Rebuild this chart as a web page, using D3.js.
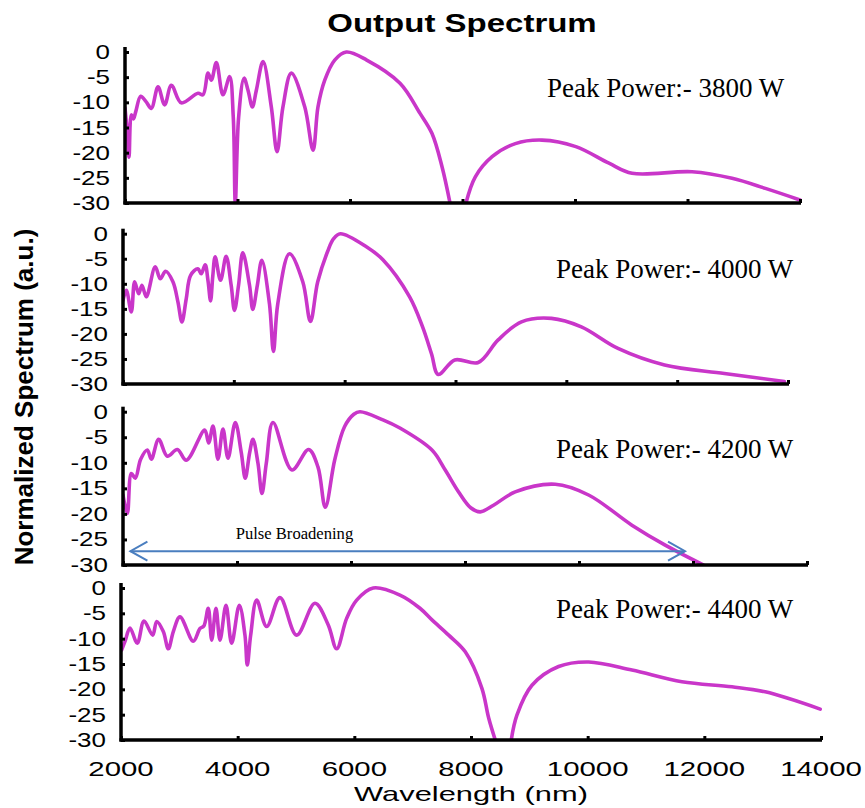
<!DOCTYPE html>
<html><head><meta charset="utf-8">
<script src="https://cdn.jsdelivr.net/npm/d3@7"></script>
<style>body{margin:0;background:#fff}svg{display:block}</style>
</head><body>
<svg id="chart" width="865" height="808"></svg>
<script>
// ---------- data ----------
const xTickValues = [2000, 4000, 6000, 8000, 10000, 12000, 14000];
const yTickValues = [0, -5, -10, -15, -20, -25, -30];
const peakPowers = ["Peak Power:- 3800 W", "Peak Power:- 4000 W", "Peak Power:- 4200 W", "Peak Power:- 4400 W"];

const wave3800 = [2000,2040,2071,2112,2150,2190,2279,2370,2468,2587,2705,2824,3001,3298,3387,3476,3535,3624,3742,3861,3925,3961,4020,4116,4187,4264,4335,4454,4601,4703,4808,4957,5195,5343,5431,5551,5728,5935,6297,6889,7245,7458,7636,7778,7900,8062,8228,8526,8940,9414,10015,10604,11015,12080,12792,13384,14000];
const spec3800 = [-11.1,-16,-20.9,-12.5,-13.3,-11.9,-8.8,-9.8,-11.2,-6.9,-10.5,-6.6,-10.1,-8.2,-8.5,-4.2,-5.6,-2.1,-8.5,-4.9,-13,-30,-13,-5.2,-7.6,-10.9,-7.6,-1.9,-10.9,-19.8,-10.9,-4.2,-10.9,-19.5,-10.9,-5.6,-1.6,0,-1.6,-6.2,-12.2,-16.2,-22.8,-30,null,-30,-24.8,-20.8,-18.2,-17.5,-18.8,-22.1,-24.1,-23.8,-25.1,-27.1,-29.4];

const wave4000 = [2000,2060,2150,2210,2283,2342,2420,2582,2672,2769,2901,2991,3063,3141,3220,3352,3411,3483,3535,3580,3620,3663,3760,3861,3952,4012,4085,4162,4283,4342,4424,4505,4643,4715,4793,5004,5244,5382,5514,5694,5800,5923,6392,6690,7172,7406,7568,7689,7988,8410,8770,9190,9731,10271,10932,11772,12853,13935];
const spec4000 = [-13.3,-11.3,-15.6,-9.6,-12,-10.3,-12.6,-6.6,-9,-7.5,-9.6,-13.6,-17.6,-13,-8.3,-7,-8,-6.2,-9.5,-13.4,-8.5,-4.6,-9.3,-4.5,-10.3,-15.3,-10.3,-3.8,-10.3,-15.1,-10.3,-5.3,-14,-23.5,-14,-4,-9.6,-17.5,-9.6,-3.5,-1,0,-2.6,-5.2,-12.6,-18.6,-24,-28.1,-25.2,-25.7,-21.2,-17.6,-16.9,-18.6,-22.9,-26.2,-27.9,-29.5];

const wave4200 = [2000,2076,2146,2216,2310,2427,2497,2626,2777,2953,3111,3433,3503,3579,3666,3754,3842,3970,4075,4145,4222,4280,4368,4438,4514,4631,4964,5257,5420,5549,5713,5888,6050,6157,6560,6858,7420,7653,7888,8100,8268,8500,8881,9583,10168,10928,11512,12186];
const spec4200 = [-16.3,-19.9,-12.1,-13,-9.3,-7.5,-9.3,-5.4,-8.7,-7.4,-9.5,-3.6,-6.1,-2.8,-9.3,-3.4,-9.1,-2.1,-8,-13,-8,-5.4,-10.1,-16,-10.1,-2.1,-11.4,-7.4,-10.8,-18.7,-9.5,-2.9,-0.5,0,-1.6,-3.2,-7.5,-11.4,-15.7,-18.8,-19.6,-18.3,-15.7,-14.2,-16.3,-22.2,-26.1,-30];

const wave4400 = [2012,2070,2154,2279,2394,2543,2612,2725,2811,2897,3011,3239,3354,3420,3496,3555,3628,3697,3800,3897,4028,4125,4165,4223,4326,4497,4725,5011,5325,5553,5697,5868,6040,6324,6782,7125,7331,7617,7902,8187,8302,8416,8550,8690,8787,9045,9502,10016,10759,11616,12473,13044,13986];
const spec4400 = [-12.2,-10.5,-7.9,-10.9,-6.5,-9.3,-6.6,-8.6,-12,-8.6,-5.7,-10.5,-8,-7.5,-4,-10.3,-4,-10.3,-3.4,-10.9,-3.4,-9.3,-15.2,-9.3,-2.4,-7.6,-1.9,-9.3,-3,-7.3,-12,-6,-2.4,0,-1.4,-4,-6.3,-9.3,-12.6,-19.8,-25.6,-30,null,-30,-25.1,-19.2,-15.5,-14.6,-16.2,-18.5,-19.5,-20.5,-23.9];

const arrowWave = [2130, 11860];
const arrowLevel = -27.3;

// ---------- layout ----------
const svg = d3.select("#chart");
svg.append("rect").attr("width", 865).attr("height", 808).attr("fill", "#fff");

const panels = [
  {w: wave3800, s: spec3800, x0: 125, x1: 800, yT: 52,    yB: 203, lx: 547, ly: 97},
  {w: wave4000, s: spec4000, x0: 123, x1: 788, yT: 233.7, yB: 384, lx: 556, ly: 278},
  {w: wave4200, s: spec4200, x0: 123, x1: 807, yT: 411.7, yB: 565, lx: 556, ly: 458},
  {w: wave4400, s: spec4400, x0: 121, x1: 821, yT: 588,   yB: 740, lx: 556, ly: 618}
];

const lineColor = "#c936c9";
const sansFont = "'Liberation Sans', Arial, Helvetica, sans-serif";
const serifFont = "'Liberation Serif', 'Times New Roman', serif";

function stretchedText(g, txt, x, y, size, sx, anchor, weight) {
  return g.append("text")
    .attr("transform", `translate(${x},${y}) scale(${sx},1)`)
    .attr("font-family", sansFont)
    .attr("font-size", size)
    .attr("font-weight", weight || "normal")
    .attr("text-anchor", anchor)
    .attr("fill", "#000")
    .text(txt);
}

panels.forEach((p, i) => {
  const x = d3.scaleLinear().domain([2000, 14000]).range([p.x0, p.x1]);
  const y = d3.scaleLinear().domain([0, -30]).range([p.yT, p.yB]);
  p.x = x; p.y = y;
  const g = svg.append("g");

  const clipId = "clip" + i;
  svg.append("clipPath").attr("id", clipId).append("rect")
    .attr("x", p.x0).attr("y", p.yT - 10).attr("width", p.x1 - p.x0 + 4).attr("height", p.yB - p.yT + 10);

  // curve
  const pts = p.w.map((w, k) => [w, p.s[k]]);
  const line = d3.line()
    .defined(d => d[1] !== null)
    .x(d => x(d[0])).y(d => y(d[1]))
    .curve(d3.curveCatmullRom.alpha(0.5));
  g.append("path").attr("d", line(pts))
    .attr("fill", "none").attr("stroke", lineColor)
    .attr("stroke-width", 3.6).attr("stroke-linejoin", "round").attr("stroke-linecap", "round")
    .attr("clip-path", `url(#${clipId})`);

  // axes (inward ticks)
  const yAxis = d3.axisRight(y).tickValues(yTickValues).tickSize(4).tickFormat("");
  const ya = g.append("g").attr("transform", `translate(${p.x0},0)`).call(yAxis);
  ya.select(".domain").remove();
  ya.selectAll("line").attr("stroke", "#000").attr("stroke-width", 3);

  const xAxis = d3.axisTop(x).tickValues(xTickValues).tickSize(4).tickFormat("");
  const xa = g.append("g").attr("transform", `translate(0,${p.yB})`).call(xAxis);
  xa.select(".domain").remove();
  xa.selectAll("line").attr("stroke", "#000").attr("stroke-width", 3);

  g.append("line").attr("x1", p.x0).attr("x2", p.x0).attr("y1", p.yT - 5).attr("y2", p.yB + 1.5)
    .attr("stroke", "#000").attr("stroke-width", 3.5);
  g.append("line").attr("x1", p.x0 - 1.5).attr("x2", p.x1 + 1).attr("y1", p.yB).attr("y2", p.yB)
    .attr("stroke", "#000").attr("stroke-width", 3.5);

  // y tick labels
  yTickValues.forEach(v => {
    stretchedText(g, String(v), p.x0 - 15, y(v) + 7, 20, 1.3, "end");
  });

  // peak power label
  g.append("text").attr("x", p.lx).attr("y", p.ly)
    .attr("font-family", serifFont).attr("font-size", 27).attr("fill", "#000")
    .text(peakPowers[i]);
});

// bottom x tick labels
const pb = panels[3];
xTickValues.forEach(v => {
  stretchedText(svg, String(v), pb.x(v), 776, 21, 1.4, "middle");
});

// titles
stretchedText(svg, "Output Spectrum", 462, 32, 25, 1.32, "middle", "bold");
stretchedText(svg, "Wavelength (nm)", 471, 801, 21, 1.47, "middle");
svg.append("text")
  .attr("transform", "translate(33,397) rotate(-90)")
  .attr("font-family", sansFont).attr("font-size", 26).attr("font-weight", "bold")
  .attr("text-anchor", "middle").attr("fill", "#000")
  .text("Normalized Spectrum (a.u.)");

// Pulse broadening arrow (panel 3)
const p3 = panels[2];
const ax1 = p3.x(arrowWave[0]), ax2 = p3.x(arrowWave[1]), ay = p3.y(arrowLevel);
const blue = "#4a7ebf";
svg.append("line").attr("x1", ax1).attr("x2", ax2).attr("y1", ay).attr("y2", ay)
  .attr("stroke", blue).attr("stroke-width", 2);
svg.append("path").attr("d", `M${ax1 + 17},${ay - 9.5}L${ax1},${ay}L${ax1 + 17},${ay + 9.5}`)
  .attr("fill", "none").attr("stroke", blue).attr("stroke-width", 2);
svg.append("path").attr("d", `M${ax2 - 17},${ay - 9.5}L${ax2},${ay}L${ax2 - 17},${ay + 9.5}`)
  .attr("fill", "none").attr("stroke", blue).attr("stroke-width", 2);
svg.append("text").attr("x", p3.x(5008)).attr("y", p3.y(-25))
  .attr("font-family", serifFont).attr("font-size", 16.6).attr("text-anchor", "middle").attr("fill", "#000")
  .text("Pulse Broadening");
</script>
</body></html>
